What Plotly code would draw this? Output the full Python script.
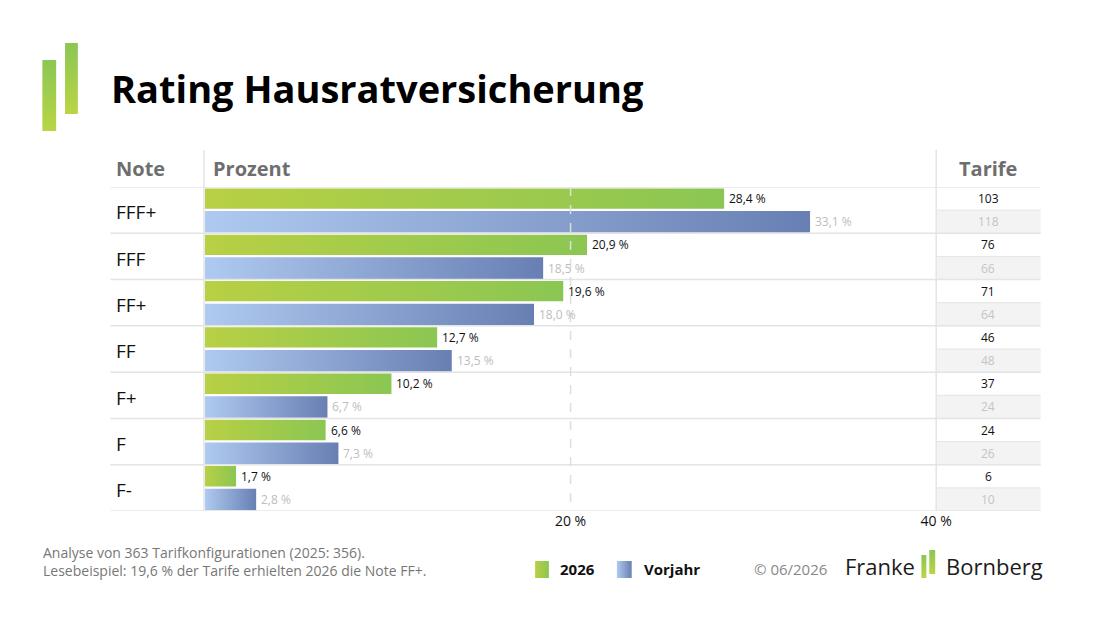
import plotly.graph_objects as go

# ---------------- data ----------------
categories = ["FFF+", "FFF", "FF+", "FF", "F+", "F", "F-"]
pct_2026 = [28.4, 20.9, 19.6, 12.7, 10.2, 6.6, 1.7]
pct_vorjahr = [33.1, 18.5, 18.0, 13.5, 6.7, 7.3, 2.8]
tarife_2026 = [103, 76, 71, 46, 37, 24, 6]
tarife_vorjahr = [118, 66, 64, 48, 24, 26, 10]
tick_vals = [20, 40]
tick_text = ["20 %", "40 %"]

W, H = 1100, 618
FONT = "Open Sans"
GREEN_SCALE = [[0, "#b8d044"], [1, "#8bc653"]]
BLUE_SCALE = [[0, "#afcaf0"], [1, "#687fb3"]]


def px(x):
    return x / W


def py(y):
    return 1 - y / H


def fmt(v):
    return f"{v:.1f}".replace(".", ",") + " %"


fig = go.Figure()

# ---------------- bars (gradient filled polygons on the data axis) ----------------
for i, (cat, g, b) in enumerate(zip(categories, pct_2026, pct_vorjahr)):
    for val, y0, y1, scale, name in [
        (g, i + 0.03, i + 0.47, GREEN_SCALE, "2026"),
        (b, i + 0.52, i + 0.985, BLUE_SCALE, "Vorjahr"),
    ]:
        fig.add_trace(go.Scatter(
            x=[0, val, val, 0, 0], y=[y0, y0, y1, y1, y0],
            mode="lines", fill="toself",
            fillgradient=dict(type="horizontal", colorscale=scale),
            line=dict(width=0, color="rgba(0,0,0,0)"),
            hoverinfo="skip", showlegend=False, name=name,
            xaxis="x", yaxis="y",
        ))

annotations = []
shapes = []

# value labels
for i, (g, b) in enumerate(zip(pct_2026, pct_vorjahr)):
    annotations.append(dict(x=g, y=i + 0.25, xref="x", yref="y", text=fmt(g),
                            showarrow=False, xanchor="left", xshift=3,
                            font=dict(family=FONT, size=12, color="#111111", weight=500)))
    annotations.append(dict(x=b, y=i + 0.75, xref="x", yref="y", text=fmt(b),
                            showarrow=False, xanchor="left", xshift=3,
                            font=dict(family=FONT, size=12, color="#bdbdbd")))

# Tarife column
for i, (t1, t0) in enumerate(zip(tarife_2026, tarife_vorjahr)):
    shapes.append(dict(type="rect", xref="paper", yref="y", x0=px(951), x1=px(1056),
                       y0=i + 0.5, y1=i + 1, fillcolor="#f3f3f3", line=dict(width=0),
                       layer="below"))
    annotations.append(dict(x=px(1003), y=i + 0.25, xref="paper", yref="y", text=str(t1),
                            showarrow=False, xanchor="center",
                            font=dict(family=FONT, size=12, color="#111111", weight=500)))
    annotations.append(dict(x=px(1003), y=i + 0.75, xref="paper", yref="y", text=str(t0),
                            showarrow=False, xanchor="center",
                            font=dict(family=FONT, size=12, color="#c4c4c4")))

# Note labels
for i, cat in enumerate(categories):
    annotations.append(dict(x=px(116), y=i + 0.55, xref="paper", yref="y", text=cat,
                            showarrow=False, xanchor="left",
                            font=dict(family=FONT, size=19, color="#111111", weight=500)))

# row lines
LINE_C = "#e4e4e4"
for k in range(len(categories) + 1):
    shapes.append(dict(type="line", xref="paper", yref="y", x0=px(112), x1=px(1056),
                       y0=k, y1=k, line=dict(color=LINE_C, width=1.5), layer="above"))
# sub-row line in Tarife column
for i in range(len(categories)):
    shapes.append(dict(type="line", xref="paper", yref="y", x0=px(951), x1=px(1056),
                       y0=i + 0.5, y1=i + 0.5, line=dict(color=LINE_C, width=1), layer="above"))
# vertical dividers
for xv in (207, 950):
    shapes.append(dict(type="line", xref="paper", yref="paper", x0=px(xv), x1=px(xv),
                       y0=py(150), y1=py(511), line=dict(color=LINE_C, width=1.5), layer="above"))
# dashed 20 % line
shapes.append(dict(type="line", xref="x", yref="y", x0=20, x1=20, y0=0, y1=7,
                   line=dict(color="#dedede", width=1.5, dash="dash"), layer="above"))

# header
for txt, xx, anchor in [("Note", 116, "left"), ("Prozent", 214, "left"), ("Tarife", 1003, "center")]:
    annotations.append(dict(x=px(xx), y=py(168), xref="paper", yref="paper", text=f"<b>{txt}</b>",
                            showarrow=False, xanchor=anchor, yanchor="middle",
                            font=dict(family=FONT, size=20, color="#6e6e6e")))

# title
annotations.append(dict(x=px(111), y=py(88), xref="paper", yref="paper",
                        text="<b>Rating Hausratversicherung</b>", showarrow=False,
                        xanchor="left", yanchor="middle",
                        font=dict(family=FONT, size=38, color="#000000")))

# footer notes
annotations.append(dict(x=px(42), y=py(561), xref="paper", yref="paper",
                        text="Analyse von 363 Tarifkonfigurationen (2025: 356).<br>"
                             "Lesebeispiel: 19,6 % der Tarife erhielten 2026 die Note FF+.",
                        showarrow=False, xanchor="left", yanchor="middle", align="left",
                        font=dict(family=FONT, size=14, color="#777777")))
annotations.append(dict(x=px(566), y=py(569), xref="paper", yref="paper", text="<b>2026</b>",
                        showarrow=False, xanchor="left", yanchor="middle",
                        font=dict(family=FONT, size=15, color="#111111")))
annotations.append(dict(x=px(651), y=py(569), xref="paper", yref="paper", text="<b>Vorjahr</b>",
                        showarrow=False, xanchor="left", yanchor="middle",
                        font=dict(family=FONT, size=15, color="#111111")))
annotations.append(dict(x=px(763), y=py(569), xref="paper", yref="paper", text="© 06/2026",
                        showarrow=False, xanchor="left", yanchor="middle",
                        font=dict(family=FONT, size=15, color="#888888")))
annotations.append(dict(x=px(931), y=py(566), xref="paper", yref="paper", text="Franke",
                        showarrow=False, xanchor="right", yanchor="middle",
                        font=dict(family=FONT, size=22, color="#1c1c1c")))
annotations.append(dict(x=px(958), y=py(566), xref="paper", yref="paper", text="Bornberg",
                        showarrow=False, xanchor="left", yanchor="middle",
                        font=dict(family=FONT, size=22, color="#1c1c1c")))

# ---------------- decorative gradient elements on a pixel overlay axis ----------------
def deco(x0, x1, y0, y1, scale, kind):
    fig.add_trace(go.Scatter(
        x=[x0, x1, x1, x0, x0], y=[y0, y0, y1, y1, y0], mode="lines", fill="toself",
        fillgradient=dict(type=kind, colorscale=scale),
        line=dict(width=0, color="rgba(0,0,0,0)"), hoverinfo="skip", showlegend=False,
        xaxis="x2", yaxis="y2"))

LOGO_SCALE = [[0, "#b9d546"], [1, "#8cc653"]]
deco(43, 57, 60, 131, LOGO_SCALE, "vertical")
deco(66, 79, 43, 114, LOGO_SCALE, "vertical")
deco(543, 557, 561, 578, GREEN_SCALE, "horizontal")
deco(626, 641, 561, 578, BLUE_SCALE, "horizontal")
deco(935, 940, 555, 578, LOGO_SCALE, "vertical")
deco(943, 949, 550, 574, LOGO_SCALE, "vertical")

fig.update_layout(
    width=W, height=H, autosize=False, margin=dict(l=0, r=0, t=0, b=0),
    paper_bgcolor="white", plot_bgcolor="rgba(0,0,0,0)",
    showlegend=False, annotations=annotations, shapes=shapes,
    xaxis=dict(domain=[px(208), px(950)], range=[0, 40], tickvals=tick_vals, ticktext=tick_text,
               showgrid=False, zeroline=False, showline=False, ticks="",
               tickfont=dict(family=FONT, size=14, color="#111111"), fixedrange=True),
    yaxis=dict(domain=[py(511), py(187)], range=[7, 0], showgrid=False, zeroline=False,
               showticklabels=False, showline=False, fixedrange=True),
    xaxis2=dict(domain=[0, 1], range=[0, W], visible=False, anchor="y2", fixedrange=True),
    yaxis2=dict(domain=[0, 1], range=[H, 0], visible=False, anchor="x2", fixedrange=True),
)

fig.write_html("out.html")
